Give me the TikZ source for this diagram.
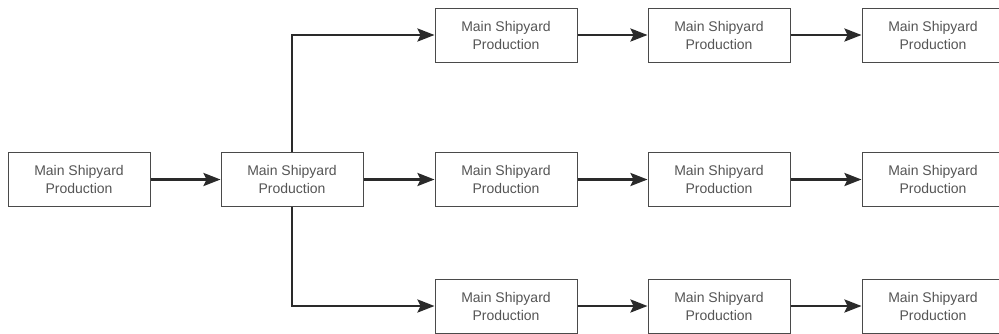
\documentclass[tikz,border=0pt]{standalone}
\usepackage{fontspec}
\setmainfont{Liberation Sans}
\usetikzlibrary{arrows.meta}
\definecolor{boxline}{HTML}{4A4A4A}
\definecolor{txt}{HTML}{555555}
\definecolor{arr}{HTML}{2A2A2A}
\begin{document}
\begin{tikzpicture}[x=1pt,y=-1pt,
  box/.style={draw=boxline,line width=1pt,fill=white,minimum width=142pt,minimum height=54pt,
    inner sep=0pt,align=center,text=txt,font=\fontsize{14pt}{18pt}\selectfont},
  conn/.style={draw=arr,line width=2.6pt,-{Stealth[length=17pt,width=13pt,inset=3pt]}}]
\useasboundingbox (0,0) rectangle (999,333);
\node[box] (a) at (79,179.5) {Main Shipyard\\Production};
\node[box] (b) at (292,179.5) {Main Shipyard\\Production};
\foreach \r/\y in {t/35,m/179.5,u/306}{
  \node[box] (\r1) at (506,\y) {Main Shipyard\\Production};
  \node[box] (\r2) at (719,\y) {Main Shipyard\\Production};
  \node[box] (\r3) at (933,\y) {Main Shipyard\\Production};
  \draw[conn] (\r1) -- (\r2);
  \draw[conn] (\r2) -- (\r3);
}
\draw[conn] (a) -- (b);
\draw[conn] (b) -- (m1);
\draw[conn] (b.north) |- (t1.west);
\draw[conn] (b.south) |- (u1.west);
\end{tikzpicture}
\end{document}
